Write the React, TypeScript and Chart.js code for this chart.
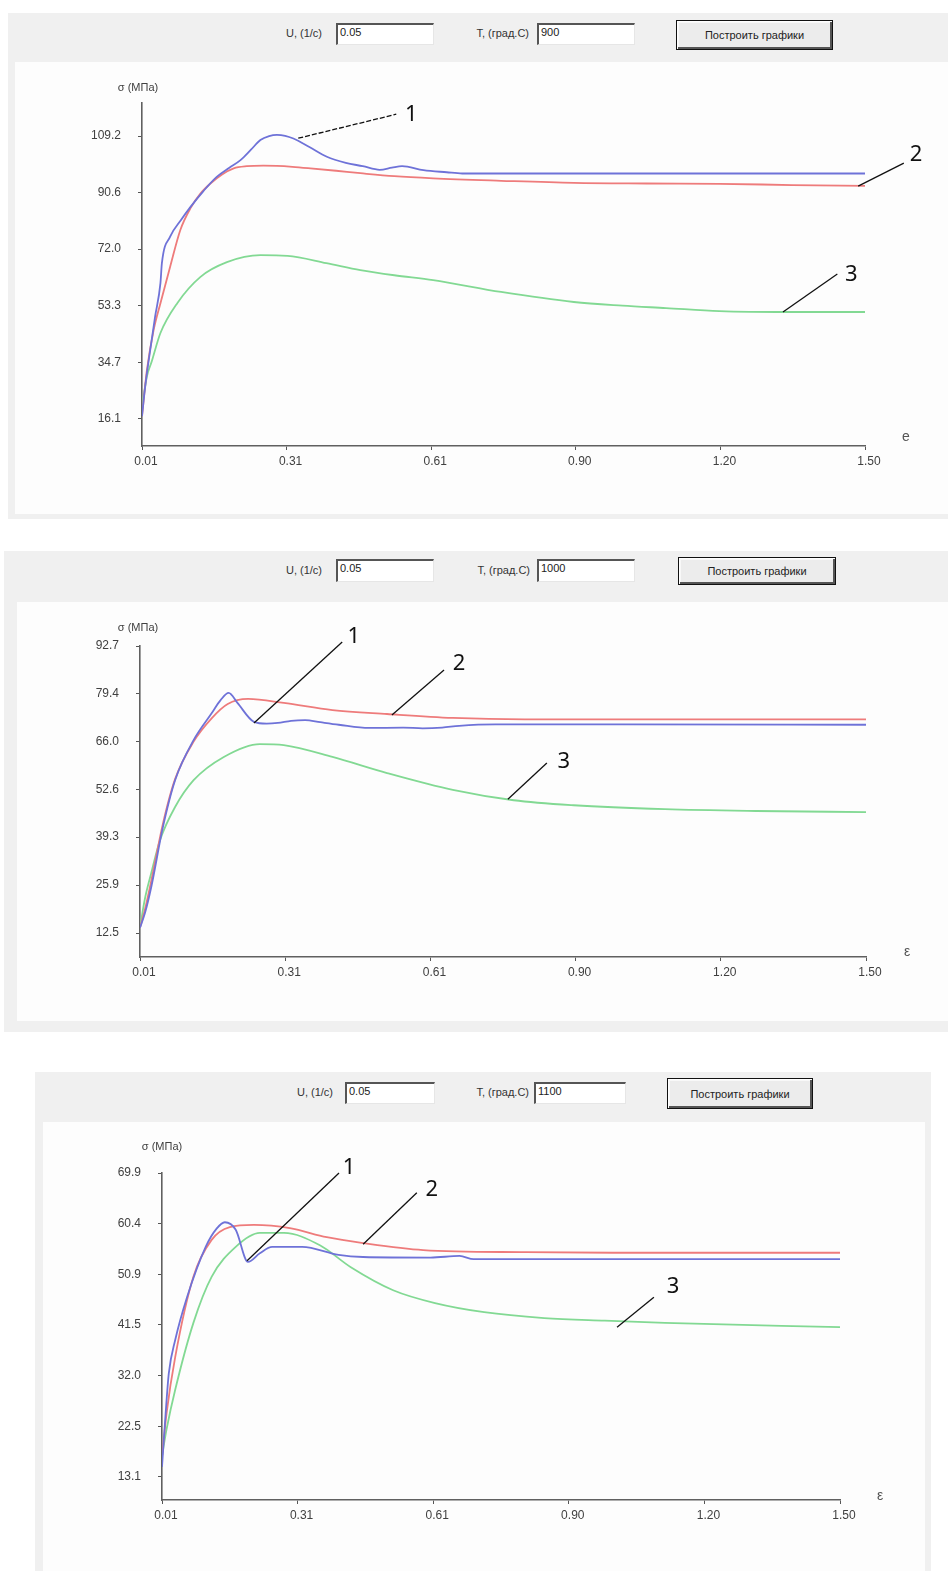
import React, { useEffect, useRef } from 'react';
import { Chart, registerables } from 'chart.js';
Chart.register(...registerables);

// ---------- shared axis data ----------
const xTickValues = [0.01, 0.308, 0.606, 0.904, 1.202, 1.5];
const xTickLabels = ['0.01', '0.31', '0.61', '0.90', '1.20', '1.50'];
const seriesColors = ['#6e72d8', '#ee7b7b', '#82d993'];
const uValue = '0.05';

// ---------- panel 1 : T = 900 ----------
const p1Temp = '900';
const p1YTicks = [16.1, 34.7, 53.3, 72.0, 90.6, 109.2];
const p1YLabels = ['16.1', '34.7', '53.3', '72.0', '90.6', '109.2'];
const p1YRange = [7.2, 120.1];
const p1X1 = [0.01, 0.016, 0.023, 0.037, 0.048, 0.051, 0.068, 0.09, 0.11, 0.137, 0.164, 0.19, 0.213, 0.235, 0.254, 0.272, 0.288, 0.305, 0.322, 0.355, 0.391, 0.43, 0.465, 0.5, 0.525, 0.546, 0.59, 0.638, 0.67, 0.8, 1.0, 1.2, 1.5];
const p1Y1 = [17, 26, 34.5, 49.8, 60.8, 67.4, 76.1, 81.5, 85.9, 91.2, 95.8, 98.8, 101.3, 104.8, 107.9, 109.2, 109.6, 109.3, 108.4, 105.6, 102.4, 100.4, 99.3, 98.1, 98.8, 99.3, 98.0, 97.3, 96.9, 96.9, 96.9, 96.9, 96.9];
const p1X2 = [0.01, 0.02, 0.034, 0.048, 0.068, 0.089, 0.11, 0.13, 0.151, 0.175, 0.199, 0.226, 0.26, 0.288, 0.32, 0.357, 0.41, 0.46, 0.53, 0.61, 0.75, 0.9, 1.05, 1.2, 1.35, 1.5];
const p1Y2 = [17, 32, 45.4, 54.2, 66.2, 78.3, 85.5, 90.2, 93.6, 96.6, 98.6, 99.3, 99.5, 99.4, 99.1, 98.6, 97.8, 97.0, 96.0, 95.3, 94.5, 93.8, 93.6, 93.5, 93.1, 92.8];
const p1X3 = [0.01, 0.02, 0.03, 0.048, 0.083, 0.13, 0.185, 0.254, 0.31, 0.39, 0.46, 0.53, 0.61, 0.75, 0.9, 1.0, 1.09, 1.2, 1.34, 1.5];
const p1Y3 = [20, 30, 35, 44.4, 54.3, 62.8, 67.7, 70.0, 69.8, 67.4, 65.1, 63.4, 61.8, 57.9, 54.6, 53.4, 52.6, 51.6, 51.3, 51.3];

// ---------- panel 2 : T = 1000 ----------
const p2Temp = '1000';
const p2YTicks = [12.5, 25.9, 39.3, 52.6, 66.0, 79.4, 92.7];
const p2YLabels = ['12.5', '25.9', '39.3', '52.6', '66.0', '79.4', '92.7'];
const p2YRange = [5.8, 92.7];
const p2X1 = [0.01, 0.02, 0.033, 0.057, 0.082, 0.12, 0.157, 0.175, 0.192, 0.21, 0.244, 0.27, 0.293, 0.32, 0.349, 0.38, 0.418, 0.48, 0.55, 0.59, 0.63, 0.665, 0.74, 1.0, 1.5];
const p2Y1 = [14, 18, 25.3, 42.1, 55.2, 66.4, 73.9, 77.5, 79.6, 76.8, 71.5, 71.0, 71.2, 71.8, 72.0, 71.4, 70.7, 69.8, 69.9, 69.7, 69.9, 70.4, 70.8, 70.8, 70.7];
const p2X2 = [0.01, 0.02, 0.033, 0.057, 0.082, 0.12, 0.157, 0.19, 0.232, 0.305, 0.405, 0.517, 0.652, 0.8, 1.0, 1.5];
const p2Y2 = [14, 19, 27, 43, 55.5, 66, 72.5, 76.5, 77.9, 76.8, 74.8, 73.7, 72.6, 72.2, 72.2, 72.2];
const p2X3 = [0.01, 0.02, 0.033, 0.051, 0.082, 0.12, 0.182, 0.256, 0.305, 0.405, 0.517, 0.652, 0.777, 0.9, 1.087, 1.274, 1.5];
const p2Y3 = [14, 22, 29.2, 38.4, 47.7, 55.2, 61.7, 65.3, 65.0, 61.7, 57.2, 52.5, 49.6, 48.2, 47.1, 46.6, 46.3];

// ---------- panel 3 : T = 1100 ----------
const p3Temp = '1100';
const p3YTicks = [13.1, 22.5, 32.0, 41.5, 50.9, 60.4, 69.9];
const p3YLabels = ['13.1', '22.5', '32.0', '41.5', '50.9', '60.4', '69.9'];
const p3YRange = [8.8, 69.9];
const p3X1 = [0.01, 0.018, 0.025, 0.039, 0.065, 0.106, 0.13, 0.148, 0.172, 0.199, 0.225, 0.252, 0.318, 0.398, 0.452, 0.6, 0.664, 0.695, 1.0, 1.5];
const p3Y1 = [15, 25, 32.5, 38.7, 46.7, 56.1, 59.5, 60.7, 59.3, 53.3, 54.9, 56.1, 56.1, 54.6, 54.2, 54.1, 54.4, 53.8, 53.8, 53.8];
const p3X2 = [0.01, 0.02, 0.039, 0.079, 0.119, 0.159, 0.212, 0.291, 0.372, 0.452, 0.584, 0.81, 1.0, 1.5];
const p3Y2 = [16.8, 25, 35.5, 50.5, 57.4, 59.8, 60.2, 59.6, 57.9, 56.8, 55.5, 55.1, 55.0, 55.0];
const p3X3 = [0.01, 0.02, 0.039, 0.079, 0.119, 0.172, 0.225, 0.278, 0.357, 0.425, 0.518, 0.61, 0.718, 0.85, 0.983, 1.115, 1.5];
const p3Y3 = [17, 22, 29.4, 41.9, 50.5, 56.1, 58.7, 58.7, 56.4, 52.3, 48.0, 45.6, 43.9, 42.8, 42.3, 41.9, 41.1];

// ---------- callouts (data coordinates) ----------
type Pt = [number, number];
type Note = { label: string; from: Pt; to: Pt; at: Pt; dashed?: boolean };
const p1Notes: Note[] = [
  { label: '1', from: [0.332, 108.5], to: [0.534, 116.4], at: [0.565, 116.1], dashed: true },
  { label: '2', from: [1.486, 92.75], to: [1.58, 100.3], at: [1.605, 103] },
  { label: '3', from: [1.331, 51.3], to: [1.443, 63.8], at: [1.472, 63.5] },
];
const p2Notes: Note[] = [
  { label: '1', from: [0.244, 71.2], to: [0.425, 93.8], at: [0.449, 95.2] },
  { label: '2', from: [0.527, 73.4], to: [0.634, 86.0], at: [0.665, 87.7] },
  { label: '3', from: [0.765, 49.9], to: [0.845, 60.0], at: [0.88, 60.5] },
];
const p3Notes: Note[] = [
  { label: '1', from: [0.197, 53.5], to: [0.399, 69.9], at: [0.421, 70.8] },
  { label: '2', from: [0.452, 56.6], to: [0.57, 66.2], at: [0.603, 66.7] },
  { label: '3', from: [1.01, 41.1], to: [1.091, 46.7], at: [1.133, 48.6] },
];

type Rect = { l: number; t: number; w: number; h: number };
type Area = { l: number; t: number; r: number; b: number };
type PanelCfg = {
  temp: string;
  gray: Rect;
  white: Rect;
  area: Area;
  yTicks: number[];
  yLabels: string[];
  yRange: number[];
  xs: number[][];
  ys: number[][];
  notes: Note[];
  xTitle: string;
  yTitleOff: Pt;
  xTitleOff: Pt;
  hdr: { cy: number; uRight: number; in1: Rect; tRight: number; in2: Rect; btn: Rect };
};

const panels: PanelCfg[] = [
  {
    temp: p1Temp,
    gray: { l: 8, t: 13, w: 940, h: 506 },
    white: { l: 15, t: 62, w: 933, h: 452 },
    area: { l: 142, t: 103, r: 865, b: 446 },
    yTicks: p1YTicks, yLabels: p1YLabels, yRange: p1YRange,
    xs: [p1X1, p1X2, p1X3], ys: [p1Y1, p1Y2, p1Y3],
    notes: p1Notes, xTitle: 'e', yTitleOff: [-4, -15], xTitleOff: [41, -9],
    hdr: { cy: 35, uRight: 322, in1: { l: 336, t: 23, w: 98, h: 22 }, tRight: 529, in2: { l: 537, t: 23, w: 98, h: 22 }, btn: { l: 676, t: 20, w: 157, h: 30 } },
  },
  {
    temp: p2Temp,
    gray: { l: 4, t: 551, w: 944, h: 481 },
    white: { l: 17, t: 602, w: 931, h: 419 },
    area: { l: 140, t: 646, r: 866, b: 957 },
    yTicks: p2YTicks, yLabels: p2YLabels, yRange: p2YRange,
    xs: [p2X1, p2X2, p2X3], ys: [p2Y1, p2Y2, p2Y3],
    notes: p2Notes, xTitle: 'ε', yTitleOff: [-2, -18], xTitleOff: [41, -5],
    hdr: { cy: 572, uRight: 322, in1: { l: 336, t: 559, w: 98, h: 23 }, tRight: 530, in2: { l: 537, t: 559, w: 98, h: 23 }, btn: { l: 678, t: 557, w: 158, h: 28 } },
  },
  {
    temp: p3Temp,
    gray: { l: 35, t: 1072, w: 896, h: 499 },
    white: { l: 43, t: 1122, w: 882, h: 449 },
    area: { l: 162, t: 1173, r: 840, b: 1500 },
    yTicks: p3YTicks, yLabels: p3YLabels, yRange: p3YRange,
    xs: [p3X1, p3X2, p3X3], ys: [p3Y1, p3Y2, p3Y3],
    notes: p3Notes, xTitle: 'ε', yTitleOff: [0, -26], xTitleOff: [40, -4],
    hdr: { cy: 1094, uRight: 333, in1: { l: 345, t: 1082, w: 90, h: 22 }, tRight: 529, in2: { l: 534, t: 1082, w: 92, h: 22 }, btn: { l: 667, t: 1078, w: 146, h: 31 } },
  },
];

const TICK_FONT = { family: '"Liberation Sans", Arial, sans-serif', size: 12 };
const TEXT_COLOR = '#404040';
const YW = 60;
const XH = 30;

function PanelChart({ cfg }: { cfg: PanelCfg }) {
  const ref = useRef<HTMLCanvasElement | null>(null);
  useEffect(() => {
    const canvas = ref.current;
    if (!canvas) return;
    const { white, area } = cfg;
    const notesPlugin = {
      id: 'notes',
      afterDraw(chart: any) {
        const ctx = chart.ctx as CanvasRenderingContext2D;
        const xs = chart.scales.x;
        const ys = chart.scales.y;
        const ca = chart.chartArea;
        ctx.save();
        // callouts
        cfg.notes.forEach((n) => {
          ctx.strokeStyle = '#111';
          ctx.lineWidth = 1.3;
          ctx.setLineDash(n.dashed ? [5, 2] : []);
          ctx.beginPath();
          ctx.moveTo(xs.getPixelForValue(n.from[0]), ys.getPixelForValue(n.from[1]));
          ctx.lineTo(xs.getPixelForValue(n.to[0]), ys.getPixelForValue(n.to[1]));
          ctx.stroke();
          ctx.setLineDash([]);
          ctx.fillStyle = '#111';
          ctx.font = '22px "Noto Sans", "Liberation Sans", sans-serif';
          ctx.textAlign = 'center';
          ctx.textBaseline = 'middle';
          ctx.fillText(n.label, xs.getPixelForValue(n.at[0]), ys.getPixelForValue(n.at[1]));
        });
        // axis titles
        ctx.fillStyle = TEXT_COLOR;
        ctx.font = '11px "Liberation Sans", Arial, sans-serif';
        ctx.textAlign = 'center';
        ctx.textBaseline = 'middle';
        ctx.fillText('σ (МПа)', ca.left + cfg.yTitleOff[0], ca.top + cfg.yTitleOff[1]);
        ctx.font = '14px "Liberation Sans", Arial, sans-serif';
        ctx.fillStyle = '#555';
        ctx.fillText(cfg.xTitle, ca.right + cfg.xTitleOff[0], ca.bottom + cfg.xTitleOff[1]);
        ctx.restore();
      },
    };
    const chart = new Chart(canvas, {
      type: 'line',
      data: {
        datasets: cfg.xs.map((xArr, i) => ({
          data: xArr.map((x, j) => ({ x, y: cfg.ys[i][j] })),
          borderColor: seriesColors[i],
          borderWidth: 1.8,
          pointRadius: 0,
          fill: false,
          cubicInterpolationMode: 'monotone' as const,
        })),
      },
      options: {
        animation: false,
        responsive: false,
        devicePixelRatio: 1,
        layout: {
          padding: {
            left: area.l - white.l - YW,
            top: area.t - white.t,
            right: white.l + white.w - area.r,
            bottom: white.t + white.h - area.b - XH,
          },
        },
        plugins: { legend: { display: false }, tooltip: { enabled: false } },
        scales: {
          x: {
            type: 'linear',
            min: 0.01,
            max: 1.5,
            afterBuildTicks: (s: any) => {
              s.ticks = xTickValues.map((v) => ({ value: v }));
            },
            afterFit: (s: any) => {
              s.height = XH;
            },
            ticks: {
              autoSkip: false,
              maxRotation: 0,
              padding: 4,
              labelOffset: 4,
              font: TICK_FONT,
              color: TEXT_COLOR,
              callback: (_v: any, i: number) => xTickLabels[i],
            },
            grid: { display: true, drawOnChartArea: false, drawTicks: true, tickLength: 4, color: '#555', lineWidth: 1 },
            border: { display: true, color: '#606060', width: 1.6 },
          },
          y: {
            type: 'linear',
            min: cfg.yRange[0],
            max: cfg.yRange[1],
            afterBuildTicks: (s: any) => {
              s.ticks = cfg.yTicks.map((v) => ({ value: v }));
            },
            afterFit: (s: any) => {
              s.width = YW;
            },
            ticks: {
              autoSkip: false,
              padding: 17,
              font: TICK_FONT,
              color: TEXT_COLOR,
              callback: (_v: any, i: number) => cfg.yLabels[i],
            },
            grid: { display: true, drawOnChartArea: false, drawTicks: true, tickLength: 4, color: '#555', lineWidth: 1 },
            border: { display: true, color: '#606060', width: 1.6 },
          },
        },
      },
      plugins: [notesPlugin],
    } as any);
    return () => chart.destroy();
  }, [cfg]);
  const { gray, white, hdr } = cfg;
  const abs = (r: Rect): React.CSSProperties => ({ position: 'absolute', left: r.l, top: r.t, width: r.w, height: r.h, boxSizing: 'border-box' });
  const labelStyle = (right: number): React.CSSProperties => ({
    position: 'absolute',
    right: 948 - right,
    top: hdr.cy - 8,
    height: 16,
    lineHeight: '16px',
    font: '11px "Liberation Sans", Arial, sans-serif',
    color: '#333',
    whiteSpace: 'nowrap',
  });
  const inputStyle = (r: Rect): React.CSSProperties => ({
    ...abs(r),
    background: '#fff',
    borderTop: '2px solid #555',
    borderLeft: '2px solid #555',
    borderRight: '1px solid #e6e6e6',
    borderBottom: '1px solid #e6e6e6',
    font: '11px "Liberation Sans", Arial, sans-serif',
    color: '#222',
    padding: '1px 2px',
    lineHeight: '13px',
  });
  return (
    <>
      <div style={{ ...abs(gray), background: '#f0f0f0' }} />
      <div style={{ ...abs(white), background: '#fdfdfd' }}>
        <canvas ref={ref} width={white.w} height={white.h} style={{ position: 'absolute', left: 0, top: 0 }} />
      </div>
      <div style={labelStyle(hdr.uRight)}>U, (1/с)</div>
      <div style={inputStyle(hdr.in1)}>{uValue}</div>
      <div style={labelStyle(hdr.tRight)}>T, (град.С)</div>
      <div style={inputStyle(hdr.in2)}>{cfg.temp}</div>
      <div
        style={{
          ...abs(hdr.btn),
          background: '#ececec',
          border: '1px solid #111',
          boxShadow: 'inset 1px 1px 0 #fff, inset -2px -2px 0 #555, inset 2px 2px 0 #f8f8f8',
          font: '11px "Liberation Sans", Arial, sans-serif',
          color: '#222',
          display: 'flex',
          alignItems: 'center',
          justifyContent: 'center',
        }}
      >
        Построить графики
      </div>
    </>
  );
}

export default function App() {
  return (
    <div style={{ position: 'absolute', left: 0, top: 0, width: 948, height: 1571, background: '#fff', overflow: 'hidden' }}>
      {panels.map((p, i) => (
        <PanelChart key={i} cfg={p} />
      ))}
    </div>
  );
}
